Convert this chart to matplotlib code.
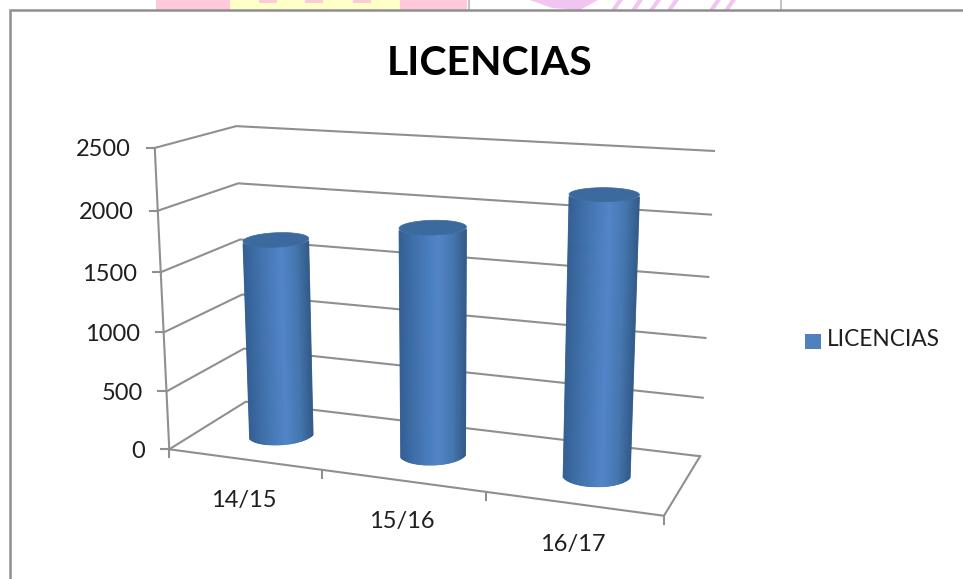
import numpy as np
import matplotlib
matplotlib.use('Agg')
import matplotlib.pyplot as plt
from matplotlib.collections import PolyCollection
from matplotlib.colors import LinearSegmentedColormap
from matplotlib.patches import Polygon, Rectangle

title = 'LICENCIAS'
categories = ['14/15', '15/16', '16/17']
licencias = [1680, 1880, 2230]
y_ticks = [0, 500, 1000, 1500, 2000, 2500]

y_max = 2500
grey = '#8f8f8f'
text_col = '#1f1f1f'
plt.rcParams['font.family'] = ['Lato', 'DejaVu Sans']

# corners of the 3D box as they land on the canvas (u, depth, value fraction)
box_3d = [(0, 0, 0), (1, 0, 0), (1, 1, 0), (0, 1, 0), (0, 0, 1), (0, 1, 1), (1, 1, 1)]
box_px = [(169, 449), (664, 516), (700, 456), (246, 402), (155, 148), (236, 126), (714, 151)]


def fit_camera(pts, px):
    rows, rhs = [], []
    for (u, v, w), (x, y) in zip(pts, px):
        rows.append([u, v, w, 1, 0, 0, 0, 0, -x * u, -x * v, -x * w])
        rows.append([0, 0, 0, 0, u, v, w, 1, -y * u, -y * v, -y * w])
        rhs += [x, y]
    sol = np.linalg.lstsq(np.array(rows, float), np.array(rhs, float), rcond=None)[0]
    return np.append(sol, 1).reshape(3, 4)


cam = fit_camera(box_3d, box_px)


def project(u, v, val):
    u, v, w = np.broadcast_arrays(u, v, np.asarray(val, float) / y_max)
    p = cam @ np.stack([u, v, w, np.ones_like(u, dtype=float)])
    return p[0] / p[2], p[1] / p[2]


def front_arc(xs, ys, t):
    # lower edge of a projected ellipse, sampled at fractions t of its width
    lo, hi = xs.min(), xs.max()
    grid = lo + t * (hi - lo)
    low = [ys[np.abs(xs - g) <= (hi - lo) * 0.02 + 0.3].max() for g in grid]
    return grid, np.array(low)


fig = plt.figure(figsize=(9.63, 5.79), dpi=100)
ax = fig.add_axes([0, 0, 1, 1])
ax.set_xlim(0, 963)
ax.set_ylim(579, 0)
ax.axis('off')

# bits of the page behind the chart
ax.add_patch(Rectangle((156, 0), 311, 10, color='#ffc9dc', lw=0))
ax.add_patch(Rectangle((230, 0), 170, 10, color='#ffffc8', lw=0))
for dot in [268, 314, 362]:
    ax.add_patch(Rectangle((dot - 9, 0), 18, 3, color='#ffc9dc', lw=0))
for xp in [469, 781]:
    ax.plot([xp, xp], [0, 10], color='#c4c4c4', lw=1.5)
ax.add_patch(Polygon([(530, 0), (598, 0), (580, 10), (552, 8)], color='#f2c4f2', lw=0))
for xp in [612, 632, 650, 668, 710, 725]:
    ax.add_patch(Polygon([(xp + 6, 0), (xp + 11, 0), (xp + 4, 10), (xp - 1, 10)], color='#f2c4f2', lw=0))

# frame of the chart
ax.plot([10, 10, 963], [579, 10, 10], color=grey, lw=1.8, solid_joinstyle='miter')

# gridlines on side and back wall, with ticks
for val in y_ticks:
    xs, ys = project([0, 0, 1], [0, 1, 1], val)
    ax.plot(xs, ys, color=grey, lw=1.5, solid_joinstyle='miter', zorder=1)
    ax.plot([xs[0] - 8, xs[0]], [ys[0], ys[0]], color=grey, lw=1.5, zorder=1)
    ax.text(xs[0] - 24, ys[0] + 2, str(val), ha='right', va='center', fontsize=17, color=text_col)

# front and right edge of the floor, left axis
xs, ys = project([0, 1, 1], [0, 0, 1], 0)
ax.plot(xs, ys, color=grey, lw=1.5, solid_joinstyle='miter', zorder=1)
xs, ys = project([0, 0], [0, 0], [0, y_max])
ax.plot(xs, ys, color=grey, lw=1.5, zorder=1)

# category ticks and labels
for i in range(len(categories) + 1):
    xp, yp = project(i / len(categories), 0, 0)
    ax.plot([xp, xp], [yp, yp + 8], color=grey, lw=1.5, zorder=1)
for i, cat in enumerate(categories):
    xp, yp = project((i + 0.5) / len(categories), 0, 0)
    ax.text(xp, yp + 41, cat, ha='center', va='center', fontsize=17, color=text_col)

# cylinders, drawn as thin strips from the base arc to the top arc
shade = LinearSegmentedColormap.from_list('cyl', [(0, '#335f94'), (0.25, '#4172ad'), (0.58, '#5185c8'),
                                                 (0.8, '#4577b0'), (1, '#325a88')])
theta = np.linspace(0, 2 * np.pi, 721)
r_u, r_v = 0.063, 0.22
steps = np.linspace(0, 1, 71)
for i, val in enumerate(licencias):
    cu = (i + 0.5) / len(categories)
    u = cu + r_u * np.cos(theta)
    v = 0.505 + r_v * np.sin(theta)
    bx, by = project(u, v, 0)
    tx, ty = project(u, v, val)
    bgx, bgy = front_arc(bx, by, steps)
    tgx, tgy = front_arc(tx, ty, steps)
    quads = [[(bgx[k], bgy[k]), (bgx[k + 1], bgy[k + 1]), (tgx[k + 1], tgy[k + 1]), (tgx[k], tgy[k])]
             for k in range(len(steps) - 1)]
    cols = shade(steps[:-1])
    ax.add_collection(PolyCollection(quads, facecolors=cols, edgecolors=cols, linewidths=0.6, zorder=3))
    ax.add_patch(Polygon(np.column_stack([tx, ty]), color='#3c6a9e', lw=0.5, zorder=4))

ax.text(490, 63.5, title, ha='center', va='center', fontsize=29.5, fontweight='bold', color='black')

# legend
ax.add_patch(Rectangle((805, 334), 16, 15, color='#4f81bd', lw=0))
ax.text(827, 340, title, ha='left', va='center', fontsize=16.3, color=text_col)

fig.savefig('out.png', dpi=100)
